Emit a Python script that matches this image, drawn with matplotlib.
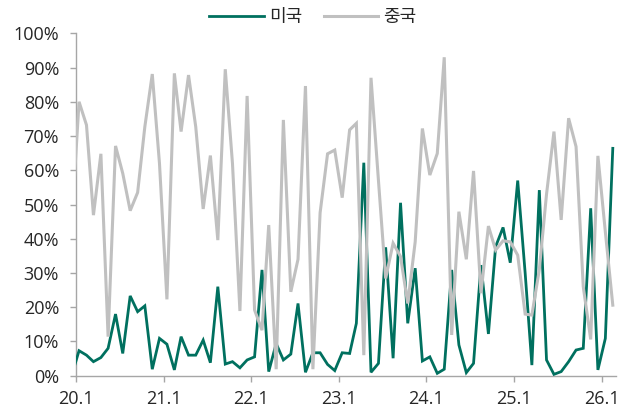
import matplotlib
matplotlib.use("Agg")
import matplotlib.pyplot as plt
import matplotlib.dates as mdates
from matplotlib.ticker import FuncFormatter
import numpy as np
import pandas as pd

plt.rcParams['font.family'] = ['Open Sans', 'Noto Sans CJK KR', 'DejaVu Sans']

# Monthly observations (Dec 2019 ... Feb 2026); Dec 2019 lies just left of the visible axis
months = pd.date_range('2019-12-01', '2026-02-01', freq='MS')

us = [0, 7.3, 6.0, 4.1, 5.3, 8.0, 18.0, 6.5, 23.3, 18.7, 20.4, 1.9, 10.9,
      9.2, 1.7, 11.4, 6.0, 6.0, 10.4, 3.8, 26.0, 3.4, 4.1, 2.3, 4.6,
      5.5, 30.9, 1.2, 9.4, 4.6, 6.3, 21.1, 1.0, 6.7, 6.7, 3.3, 1.5,
      6.7, 6.5, 15.3, 62.2, 1.0, 3.6, 37.5, 5.1, 50.5, 15.3, 31.4, 4.3,
      5.5, 0.7, 1.9, 30.9, 9.0, 0.9, 3.6, 32.3, 12.2, 37.7, 43.3, 33.0,
      57.0, 30.0, 3.1, 54.2, 4.6, 0.4, 1.2, 4.1, 7.5, 8.0, 48.9, 1.7,
      10.9, 66.4]

china = [44, 80.0, 73.2, 46.9, 64.8, 11.4, 67.1, 59.1, 48.2, 53.5, 72.7, 88.1, 62,
         22.3, 88.3, 71.3, 87.8, 72.7, 48.7, 64.3, 39.6, 89.5, 62, 18.9, 81.7,
         19.2, 13.3, 44.0, 1.9, 74.7, 24.5, 34.0, 84.6, 1.9, 47.6, 64.8, 65.9,
         52.0, 71.8, 73.7, 6.0, 87.0, 57, 28.4, 38.7, 34.8, 21.1, 39.1, 72.2,
         58.6, 64.9, 93.0, 11.9, 47.9, 34.0, 59.8, 24.1, 43.7, 36.7, 39.4, 39.1,
         35.2, 18.0, 17.7, 31, 53, 71.3, 45.5, 75.2, 66.9, 26, 10.6, 64.2,
         42, 20.6]

series_names = ['미국', '중국']
yticks = [0, 10, 20, 30, 40, 50, 60, 70, 80, 90, 100]
xtick_years = [2020, 2021, 2022, 2023, 2024, 2025, 2026]

teal = '#00705F'
grey = '#C0C0C0'
axis_col = '#A6A6A6'
text_col = '#262626'

fig = plt.figure(figsize=(6.26, 4.09), dpi=100)
ax = fig.add_axes([0.1209, 0.0814, 0.8626, 0.8372])

x = months + pd.Timedelta(days=14)
ax.plot(x, us, color=teal, lw=2.0, label=series_names[0], zorder=3,
        solid_joinstyle='miter')
ax.plot(x, china, color=grey, lw=2.2, label=series_names[1], zorder=4,
        solid_joinstyle='miter')

ax.set_ylim(0, 100)
ax.set_yticks(yticks)
ax.yaxis.set_major_formatter(FuncFormatter(lambda v, p: f"{int(v)}%"))

ax.set_xlim(pd.Timestamp('2020-01-01'), pd.Timestamp('2026-02-27'))
ax.set_xticks([pd.Timestamp(f'{y}-01-01') for y in xtick_years])
ax.xaxis.set_major_formatter(FuncFormatter(
    lambda v, p: f"{mdates.num2date(v).year % 100}.{mdates.num2date(v).month}"))

for s in ['top', 'right']:
    ax.spines[s].set_visible(False)
for s in ['left', 'bottom']:
    ax.spines[s].set_color(axis_col)
    ax.spines[s].set_linewidth(1.0)

ax.tick_params(axis='y', direction='out', length=4, width=1, color=axis_col,
               labelsize=13, labelcolor=text_col, pad=8)
ax.tick_params(axis='x', direction='out', length=4, width=1, color=axis_col,
               labelsize=13, labelcolor=text_col, pad=6)

fig.legend(loc='upper center', bbox_to_anchor=(0.5, 1.02), ncol=2, frameon=False,
           fontsize=13, handlelength=3.0, handletextpad=0.3, columnspacing=1.2,
           labelcolor=text_col)

fig.savefig('out.png', dpi=100)
